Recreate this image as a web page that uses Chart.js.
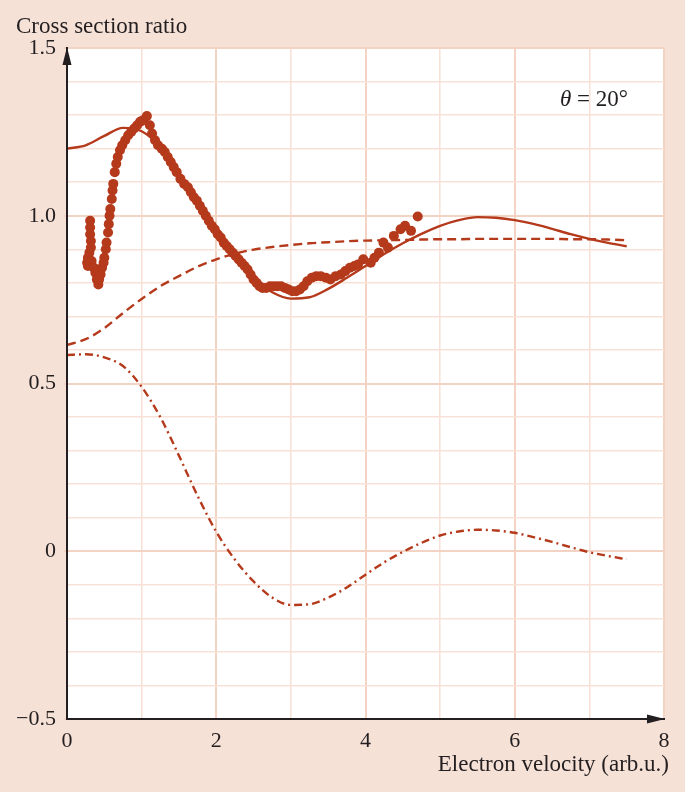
<!DOCTYPE html>
<html>
<head>
<meta charset="utf-8">
<title>Cross section ratio</title>
<script src="https://cdn.jsdelivr.net/npm/chart.js@4.4.1/dist/chart.umd.min.js"></script>
<style>
  body { margin: 0; background: #f6e1d7; }
  #wrap { width: 685px; height: 792px; }
</style>
</head>
<body>
<div id="wrap"><canvas id="chart" width="685" height="792"></canvas></div>
<script>
// Theory curves, sampled along electron velocity
const curveV = [0, 0.25, 0.5, 0.75, 1, 1.25, 1.5, 1.75, 2, 2.25, 2.5, 2.75, 3, 3.25, 3.5, 3.75,
  4, 4.25, 4.5, 4.75, 5, 5.25, 5.5, 5.75, 6, 6.25, 6.5, 6.75, 7, 7.25, 7.5];
const solidR = [1.200, 1.210, 1.238, 1.262, 1.252, 1.205, 1.125, 1.040, 0.955, 0.877, 0.812, 0.772,
  0.753, 0.757, 0.782, 0.815, 0.850, 0.886, 0.918, 0.946, 0.970, 0.987, 0.996, 0.994, 0.987, 0.976,
  0.961, 0.945, 0.931, 0.919, 0.909];
const dashedR = [0.615, 0.632, 0.665, 0.710, 0.752, 0.790, 0.820, 0.848, 0.870, 0.887, 0.899, 0.907,
  0.913, 0.918, 0.921, 0.924, 0.926, 0.927, 0.928, 0.929, 0.930, 0.930, 0.931, 0.931, 0.931, 0.931,
  0.931, 0.930, 0.930, 0.929, 0.927];
const dashDotR = [0.585, 0.587, 0.578, 0.552, 0.490, 0.400, 0.285, 0.165, 0.058, -0.025, -0.090, -0.138,
  -0.160, -0.158, -0.138, -0.108, -0.070, -0.033, -0.002, 0.025, 0.047, 0.059, 0.064, 0.062, 0.055,
  0.042, 0.028, 0.012, -0.003, -0.014, -0.024];

// Measured points
const expV = [0.31, 0.31, 0.31, 0.32, 0.32, 0.30, 0.28, 0.27, 0.28, 0.33,
  0.36, 0.38, 0.40, 0.42, 0.43, 0.45, 0.47, 0.49, 0.50, 0.52,
  0.53, 0.55, 0.56, 0.57, 0.58, 0.60, 0.61, 0.62, 0.64, 0.66,
  0.68, 0.71, 0.74, 0.78, 0.82, 0.86, 0.90, 0.94, 0.98, 1.02,
  1.07, 1.11, 1.14, 1.18, 1.22, 1.27, 1.31, 1.35, 1.39, 1.43,
  1.47, 1.52, 1.57, 1.62, 1.66, 1.70, 1.74, 1.78, 1.82, 1.86,
  1.90, 1.94, 1.98, 2.02, 2.06, 2.10, 2.14, 2.18, 2.22, 2.26,
  2.30, 2.34, 2.38, 2.42, 2.46, 2.50, 2.54, 2.58, 2.62, 2.67,
  2.72, 2.77, 2.82, 2.87, 2.92, 2.97, 3.02, 3.07, 3.12, 3.17,
  3.22, 3.28, 3.34, 3.40, 3.47, 3.53, 3.60, 3.67, 3.73, 3.79,
  3.85, 3.90, 3.97, 4.07, 4.12, 4.18, 4.24, 4.30, 4.38, 4.47,
  4.53, 4.61, 4.70];
const expR = [0.985, 0.965, 0.945, 0.925, 0.905, 0.89, 0.875, 0.86, 0.85, 0.865,
  0.845, 0.83, 0.81, 0.795, 0.81, 0.825, 0.845, 0.86, 0.875, 0.90,
  0.92, 0.95, 0.975, 1.0, 1.02, 1.05, 1.075, 1.095, 1.13, 1.155,
  1.175, 1.195, 1.21, 1.225, 1.24, 1.25, 1.26, 1.27, 1.28, 1.285,
  1.297, 1.27, 1.245, 1.225, 1.21, 1.20, 1.19, 1.175, 1.16, 1.145,
  1.13, 1.11, 1.095, 1.085, 1.07, 1.055, 1.045, 1.03, 1.015, 1.0,
  0.985, 0.97, 0.96, 0.945, 0.935, 0.92, 0.91, 0.90, 0.89, 0.88,
  0.87, 0.86, 0.85, 0.84, 0.825, 0.81, 0.80, 0.79, 0.785, 0.785,
  0.79, 0.79, 0.79, 0.79, 0.785, 0.78, 0.775, 0.775, 0.78, 0.79,
  0.805, 0.815, 0.82, 0.82, 0.815, 0.81, 0.82, 0.825, 0.835, 0.845,
  0.85, 0.855, 0.87, 0.86, 0.875, 0.89, 0.92, 0.905, 0.94, 0.96,
  0.97, 0.955, 0.998];

// Axis ticks and labels
const xTickValues = [0, 2, 4, 6, 8];
const xTickLabels = ["0", "2", "4", "6", "8"];
const yTickValues = [-0.5, 0, 0.5, 1.0, 1.5];
const yTickLabels = ["\u22120.5", "0", "0.5", "1.0", "1.5"];
const xTitle = "Electron velocity (arb.u.)";
const yTitle = "Cross section ratio";
const angleText = " = 20\u00b0";

const red = "#b5391b";
const ink = "#231f20";
const pink = "#f6e1d7";
const serif = "'Liberation Serif', 'Times New Roman', serif";

const toPoints = (xs, ys) => xs.map((x, i) => ({ x: x, y: ys[i] }));

function tickLabel(values, labels, v) {
  const i = values.findIndex((t) => Math.abs(t - v) < 1e-6);
  return i >= 0 ? labels[i] : "";
}

function isMajor(v, step) {
  const q = v / step;
  return Math.abs(q - Math.round(q)) < 1e-6;
}

const plotBackground = {
  id: "plotBackground",
  beforeDraw(chart) {
    const { ctx, chartArea: a } = chart;
    ctx.save();
    ctx.fillStyle = pink;
    ctx.fillRect(0, 0, chart.width, chart.height);
    ctx.fillStyle = "#ffffff";
    ctx.fillRect(a.left, a.top, a.right - a.left, a.bottom - a.top);
    ctx.restore();
  }
};

const axesAndText = {
  id: "axesAndText",
  afterDraw(chart) {
    const { ctx, chartArea: a } = chart;
    ctx.save();
    ctx.fillStyle = ink;

    // arrow heads
    ctx.beginPath();
    ctx.moveTo(a.left, a.top - 1);
    ctx.lineTo(a.left - 4.5, a.top + 17);
    ctx.lineTo(a.left + 4.5, a.top + 17);
    ctx.closePath();
    ctx.fill();

    ctx.beginPath();
    ctx.moveTo(a.right + 1, a.bottom);
    ctx.lineTo(a.right - 17, a.bottom - 4.5);
    ctx.lineTo(a.right - 17, a.bottom + 4.5);
    ctx.closePath();
    ctx.fill();

    // axis titles
    ctx.font = "23px " + serif;
    ctx.textBaseline = "alphabetic";
    ctx.textAlign = "left";
    ctx.fillText(yTitle, 16, 33);
    ctx.textAlign = "right";
    ctx.fillText(xTitle, 669, 771);

    // theta label
    ctx.textAlign = "left";
    ctx.font = "italic 23px " + serif;
    const tx = 560;
    ctx.fillText("\u03b8", tx, 106);
    const w = ctx.measureText("\u03b8").width;
    ctx.font = "23px " + serif;
    ctx.fillText(angleText, tx + w, 106);
    ctx.restore();
  }
};

const ctx = document.getElementById("chart").getContext("2d");

new Chart(ctx, {
  type: "scatter",
  data: {
    datasets: [
      {
        label: "Experiment",
        data: toPoints(expV, expR),
        showLine: false,
        pointRadius: 5,
        pointBackgroundColor: red,
        pointBorderWidth: 0,
        order: 0
      },
      {
        label: "Solid",
        data: toPoints(curveV, solidR),
        showLine: true,
        borderColor: red,
        borderWidth: 2.4,
        pointRadius: 0,
        cubicInterpolationMode: "monotone",
        order: 1
      },
      {
        label: "Dashed",
        data: toPoints(curveV, dashedR),
        showLine: true,
        borderColor: red,
        borderWidth: 2.4,
        borderDash: [9, 5],
        pointRadius: 0,
        cubicInterpolationMode: "monotone",
        order: 2
      },
      {
        label: "Dash-dot",
        data: toPoints(curveV, dashDotR),
        showLine: true,
        borderColor: red,
        borderWidth: 2.4,
        borderDash: [8, 4, 2, 4],
        pointRadius: 0,
        cubicInterpolationMode: "monotone",
        order: 3
      }
    ]
  },
  options: {
    responsive: false,
    animation: false,
    layout: { padding: { top: 48, right: 21, left: 0, bottom: 0 } },
    plugins: {
      legend: { display: false },
      tooltip: { enabled: false }
    },
    scales: {
      x: {
        type: "linear",
        min: 0,
        max: 8,
        afterFit: (s) => { s.height = 73; },
        ticks: {
          stepSize: 1,
          autoSkip: false,
          maxRotation: 0,
          padding: 9,
          color: ink,
          font: { family: serif, size: 22 },
          callback: (v) => tickLabel(xTickValues, xTickLabels, v)
        },
        grid: {
          drawTicks: false,
          color: (c) => (isMajor(c.tick.value, 2) ? "#f2d3c4" : "#f8e2d8"),
          lineWidth: (c) => (isMajor(c.tick.value, 2) ? 2 : 1.6)
        },
        border: { display: true, color: ink, width: 2, z: 1 }
      },
      y: {
        type: "linear",
        min: -0.5,
        max: 1.5,
        afterFit: (s) => { s.width = 67; },
        ticks: {
          stepSize: 0.1,
          autoSkip: false,
          padding: 8,
          color: ink,
          font: { family: serif, size: 22 },
          callback: (v) => tickLabel(yTickValues, yTickLabels, v)
        },
        grid: {
          tickLength: 3,
          color: (c) => (isMajor(c.tick.value, 0.5) ? "#f2d3c4" : "#f8e2d8"),
          lineWidth: (c) => (isMajor(c.tick.value, 0.5) ? 2 : 1.6)
        },
        border: { display: true, color: ink, width: 2, z: 1 }
      }
    }
  },
  plugins: [plotBackground, axesAndText]
});
</script>
</body>
</html>
